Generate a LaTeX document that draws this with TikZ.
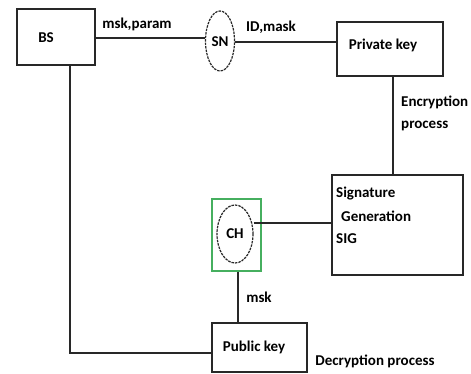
\documentclass[tikz,border=0pt]{standalone}
\usepackage{fontspec}
\setmainfont{Carlito}
\usetikzlibrary{shapes.geometric}
\definecolor{ln}{RGB}{40,40,40}
\definecolor{grn}{RGB}{70,175,95}
\tikzset{
  box/.style={draw=ln, line width=1.4pt, rectangle, inner sep=0pt},
  oval/.style={draw=ln, line width=1.2pt, dash pattern=on 2.5pt off 1pt, ellipse, inner sep=0pt},
  wire/.style={draw=ln, line width=1.4pt},
  lbl/.style={font=\fontsize{15}{17}\selectfont\bfseries, text=black, inner sep=0pt},
}
\begin{document}
\begin{tikzpicture}[x=1pt,y=-1pt]
\useasboundingbox (0,0) rectangle (471,374);
\fill[white] (0,0) rectangle (471,374);
% boxes
\node[box, minimum width=78pt, minimum height=56pt] (bs) at (56,37) {};
\node[lbl] (bst) at (46,38) {BS};
\node[oval, minimum width=29pt, minimum height=60pt] (sn) at (220,41) {};
\node[lbl] (snt) at (220,42) {SN};
\node[box, minimum width=106pt, minimum height=54pt] (pk) at (390,49) {};
\node[lbl] (pkt) at (383,45) {Private key};
\node[box, minimum width=131pt, minimum height=100pt] (sig) at (397.5,225) {};
\node[lbl, anchor=west] (s1) at (336,194) {Signature};
\node[lbl, anchor=west] (s2) at (341,216) {Generation};
\node[lbl, anchor=west] (s3) at (336,239) {SIG};
\node[draw=grn, line width=1.1pt, rectangle, minimum width=49pt, minimum height=72pt, inner sep=0pt] (gb) at (236.5,235) {};
\node[oval, minimum width=36pt, minimum height=58pt] (ch) at (235,234) {};
\node[lbl] (cht) at (235,234) {CH};
\node[box, minimum width=95pt, minimum height=49pt] (pub) at (259.5,347.5) {};
\node[lbl] (pubt) at (254,347) {Public key};
% labels
\node[lbl] (l1) at (137,24) {msk,param};
\node[lbl] (l2) at (271,27) {ID,mask};
\node[lbl, anchor=west] (l3) at (401,102) {Encryption};
\node[lbl, anchor=west] (l4) at (401,126) {process};
\node[lbl] (l5) at (259,297) {msk};
\node[lbl] (l6) at (375,361) {Decryption process};
% connectors
\coordinate (bsdown) at (70,65);
\coordinate (corner) at (70,353);
\draw[wire] (bs.east |- 0,38) -- (sn.west |- 0,38);
\draw[wire] (sn.east |- 0,42) -- (pk.west |- 0,42);
\draw[wire] (pk.south -| 393,0) -- (sig.north -| 393,0);
\draw[wire] (ch.east |- 0,223) -- (sig.west |- 0,223);
\draw[wire] (gb.south -| 238,0) -- (pub.north -| 238,0);
\draw[wire] (bsdown) -- (corner) -- (pub.west |- corner);
\end{tikzpicture}
\end{document}
